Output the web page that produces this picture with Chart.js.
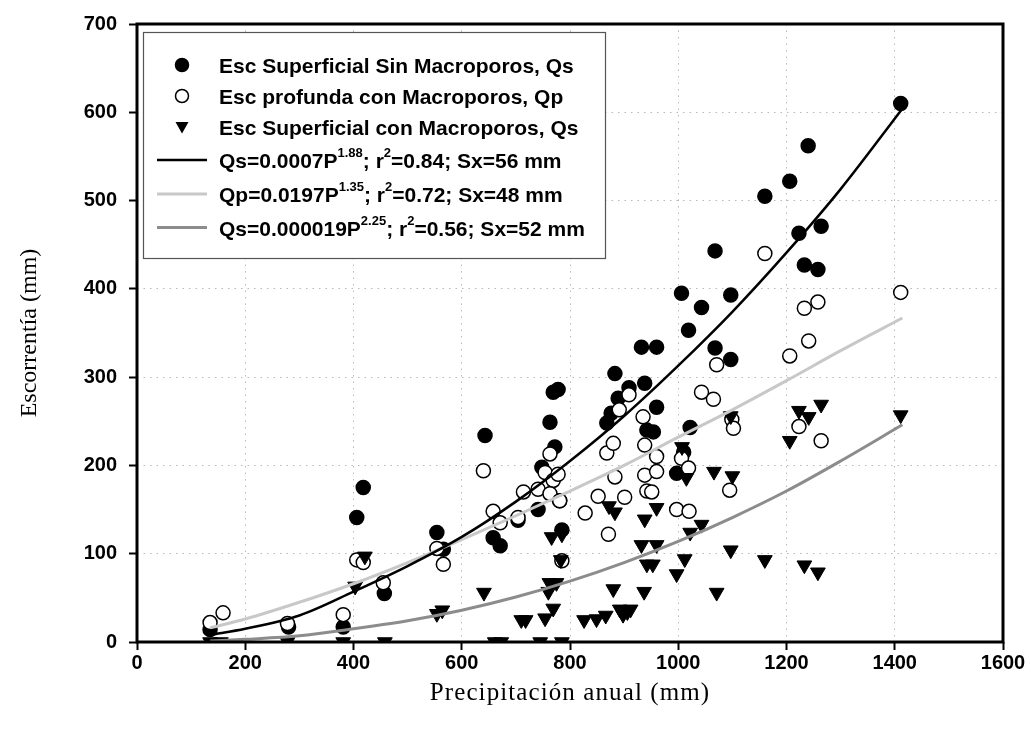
<!DOCTYPE html>
<html>
<head>
<meta charset="utf-8">
<title>Escorrentía vs precipitación anual</title>
<script src="https://cdn.jsdelivr.net/npm/chart.js@4.4.1/dist/chart.umd.min.js"></script>
<style>
  body { margin: 0; background: #fff; }
  #wrap { width: 1031px; height: 740px; }
</style>
</head>
<body>
<div id="wrap"><canvas id="runoffChart" width="1031" height="740"></canvas></div>
<script>
// Esc superficial sin macroporos (Qs) - filled circles
const sinMacroP = [135, 280, 381, 406, 418, 457, 554, 566, 643, 658, 671, 704, 741, 748, 763, 769, 778, 772, 781, 785,
  868, 876, 883, 889, 909, 932, 960, 938, 960, 942, 954, 1006, 1043, 1019, 1068, 1097, 1097, 1022, 997, 1010,
  1068, 1160, 1206, 1240, 1223, 1264, 1233, 1258, 1411];
const sinMacroQ = [14, 17, 17, 141, 175, 55, 124, 105, 234, 118, 109, 138, 150, 198, 249, 283, 286, 221, 160, 127,
  248, 259, 304, 276, 288, 334, 334, 293, 266, 240, 238, 395, 379, 353, 333, 393, 320, 243, 191, 215,
  443, 505, 522, 562, 463, 471, 427, 422, 610];

// Esc profunda con macroporos (Qp) - open circles
const profundaP = [135, 159, 278, 381, 406, 418, 455, 554, 566, 640, 658, 671, 704, 714, 741, 754, 763, 769, 778, 763,
  781, 785, 828, 852, 871, 883, 868, 880, 901, 909, 891, 935, 938, 960, 938, 960, 942, 951, 997, 1020,
  1006, 1019, 1043, 1065, 1071, 1095, 1099, 1102, 1160, 1206, 1233, 1258, 1241, 1223, 1264, 1411];
const profundaQ = [22, 33, 21, 31, 93, 90, 67, 106, 88, 194, 148, 135, 141, 170, 173, 192, 213, 183, 190, 168,
  160, 92, 146, 165, 122, 187, 214, 225, 164, 280, 263, 255, 223, 210, 189, 193, 171, 170, 150, 148,
  208, 197, 283, 275, 314, 172, 252, 242, 440, 324, 378, 385, 341, 244, 228, 396];

// Esc superficial con macroporos (Qs) - down triangles
const conMacroP = [135, 155, 278, 381, 403, 421, 458, 554, 564, 641, 661, 673, 710, 718, 745, 754, 769, 760, 762, 775,
  783, 766, 785, 785, 826, 849, 866, 880, 892, 898, 906, 912, 872, 883, 938, 960, 932, 960, 942, 953,
  937, 997, 1012, 1022, 1043, 1007, 1015, 1066, 1100, 1071, 1097, 1097, 1160, 1233, 1258, 1206, 1223, 1241, 1264, 1411];
const conMacroQ = [0, 0, 0, 0, 63, 97, 0, 32, 36, 56, 0, 0, 25, 25, 0, 27, 38, 57, 67, 67,
  93, 119, 122, 0, 25, 26, 30, 60, 37, 31, 34, 37, 154, 147, 139, 152, 110, 110, 88, 88,
  57, 77, 94, 124, 133, 221, 186, 193, 188, 56, 104, 256, 93, 87, 79, 228, 262, 255, 269, 257];

// fitted curves, read at fixed precipitation values
const fitP = [135, 200, 300, 400, 500, 600, 700, 800, 900, 1000, 1100, 1200, 1300, 1414];
const fitSinMacro = [8, 15, 30, 57, 86, 119, 159, 205, 256, 313, 374, 441, 513, 604];
const fitProfunda = [16, 26, 45, 66, 90, 116, 143, 171, 200, 232, 263, 296, 330, 367];
const fitConMacro = [1, 3, 7, 15, 24, 36, 51, 69, 90, 114, 141, 171, 205, 246];

const xTicks = [0, 200, 400, 600, 800, 1000, 1200, 1400, 1600];
const yTicks = [0, 100, 200, 300, 400, 500, 600, 700];

const xTitle = 'Precipitación anual (mm)';
const yTitle = 'Escorrentía (mm)';

const legendRows = [
  { mark: 'filled', parts: [['Esc Superficial Sin Macroporos, Qs']] },
  { mark: 'open', parts: [['Esc profunda con Macroporos, Qp']] },
  { mark: 'triangle', parts: [['Esc Superficial con Macroporos, Qs']] },
  { mark: 'line', color: '#000000', parts: [['Qs=0.0007P'], ['1.88', true], ['; r'], ['2', true], ['=0.84; Sx=56 mm']] },
  { mark: 'line', color: '#c8c8c8', parts: [['Qp=0.0197P'], ['1.35', true], ['; r'], ['2', true], ['=0.72; Sx=48 mm']] },
  { mark: 'line', color: '#8c8c8c', parts: [['Qs=0.000019P'], ['2.25', true], ['; r'], ['2', true], ['=0.56; Sx=52 mm']] }
];

const toPoints = (xs, ys) => xs.map((x, i) => ({ x: x, y: ys[i] }));

const sansBold = "'Liberation Sans', Arial, sans-serif";
const serif = "'Liberation Serif', 'Times New Roman', serif";

// thick box around the plot area
const framePlugin = {
  id: 'frame',
  afterDatasetsDraw(chart) {
    const { ctx, chartArea: a } = chart;
    ctx.save();
    ctx.lineWidth = 3;
    ctx.strokeStyle = '#000';
    ctx.strokeRect(a.left, a.top, a.right - a.left, a.bottom - a.top);
    ctx.restore();
  }
};

// axis titles drawn by hand so the x title can be letter-spaced
const axisTitles = {
  id: 'axisTitles',
  afterDraw(chart) {
    const { ctx, chartArea: a } = chart;
    ctx.save();
    ctx.fillStyle = '#000';
    ctx.textAlign = 'center';
    ctx.textBaseline = 'middle';
    ctx.font = '25px ' + serif;
    ctx.letterSpacing = '1.1px';
    ctx.fillText(xTitle, (a.left + a.right) / 2, 693);
    ctx.letterSpacing = '0px';
    ctx.font = '24px ' + serif;
    ctx.translate(30, (a.top + a.bottom) / 2);
    ctx.rotate(-Math.PI / 2);
    ctx.fillText(yTitle, 0, 0);
    ctx.restore();
  }
};

// legend box with superscripts in the fit equations
const equationLegend = {
  id: 'equationLegend',
  afterDraw(chart) {
    const ctx = chart.ctx;
    const box = { left: 143, top: 32, width: 462, height: 226 };
    const baselines = [73, 104, 135, 168, 202, 235.5];
    const markX = 182;
    const textX = 219;
    ctx.save();
    ctx.fillStyle = '#fff';
    ctx.fillRect(box.left, box.top, box.width, box.height);
    ctx.lineWidth = 1.2;
    ctx.strokeStyle = '#555';
    ctx.strokeRect(box.left + 0.5, box.top + 0.5, box.width, box.height);

    legendRows.forEach((row, i) => {
      const base = baselines[i];
      const midY = base - 8;
      ctx.fillStyle = '#000';
      ctx.strokeStyle = '#000';
      if (row.mark === 'filled' || row.mark === 'open') {
        ctx.beginPath();
        ctx.arc(markX, midY, 6.5, 0, Math.PI * 2);
        ctx.fillStyle = row.mark === 'filled' ? '#000' : '#fff';
        ctx.fill();
        ctx.lineWidth = 1.5;
        ctx.stroke();
      } else if (row.mark === 'triangle') {
        ctx.beginPath();
        ctx.moveTo(markX - 6.5, midY - 5);
        ctx.lineTo(markX + 6.5, midY - 5);
        ctx.lineTo(markX, midY + 6.5);
        ctx.closePath();
        ctx.fill();
      } else {
        ctx.beginPath();
        ctx.moveTo(157, midY);
        ctx.lineTo(207, midY);
        ctx.lineWidth = row.color === '#000000' ? 2.5 : 3;
        ctx.strokeStyle = row.color;
        ctx.stroke();
      }
      let x = textX;
      ctx.fillStyle = '#000';
      ctx.textBaseline = 'alphabetic';
      ctx.textAlign = 'left';
      row.parts.forEach(([txt, sup]) => {
        ctx.font = 'bold ' + (sup ? 13 : 21) + 'px ' + sansBold;
        ctx.fillText(txt, x, sup ? base - 11 : base);
        x += ctx.measureText(txt).width;
      });
    });
    ctx.restore();
  }
};

const tickStyle = {
  color: '#000',
  font: { family: sansBold, weight: 'bold', size: 20 },
  callback: (v) => String(v)
};

const gridStyle = {
  color: '#b8b8b8',
  lineWidth: 1,
  tickLength: 8,
  tickColor: '#000',
  tickWidth: 2,
  tickBorderDash: []
};

const chart = new Chart(document.getElementById('runoffChart'), {
  type: 'scatter',
  data: {
    datasets: [
      {
        label: 'Esc Superficial Sin Macroporos, Qs',
        data: toPoints(sinMacroP, sinMacroQ),
        pointStyle: 'circle',
        pointRadius: 7,
        backgroundColor: '#000',
        borderColor: '#000',
        borderWidth: 1.5,
        order: 4
      },
      {
        label: 'Esc profunda con Macroporos, Qp',
        data: toPoints(profundaP, profundaQ),
        pointStyle: 'circle',
        pointRadius: 7,
        backgroundColor: '#fff',
        borderColor: '#000',
        borderWidth: 1.5,
        order: 3
      },
      {
        label: 'Esc Superficial con Macroporos, Qs',
        data: toPoints(conMacroP, conMacroQ),
        pointStyle: 'triangle',
        rotation: 180,
        pointRadius: 8.5,
        backgroundColor: '#000',
        borderColor: '#000',
        borderWidth: 1,
        order: 2
      },
      {
        label: 'Qs sin macroporos (ajuste)',
        data: toPoints(fitP, fitSinMacro),
        showLine: true,
        pointRadius: 0,
        borderColor: '#000',
        borderWidth: 2.5,
        cubicInterpolationMode: 'monotone',
        order: 1
      },
      {
        label: 'Qp (ajuste)',
        data: toPoints(fitP, fitProfunda),
        showLine: true,
        pointRadius: 0,
        borderColor: '#c8c8c8',
        borderWidth: 3,
        cubicInterpolationMode: 'monotone',
        order: 1
      },
      {
        label: 'Qs con macroporos (ajuste)',
        data: toPoints(fitP, fitConMacro),
        showLine: true,
        pointRadius: 0,
        borderColor: '#8c8c8c',
        borderWidth: 3,
        cubicInterpolationMode: 'monotone',
        order: 1
      }
    ]
  },
  options: {
    responsive: false,
    animation: false,
    events: [],
    layout: { padding: { top: 19, right: 28, left: 0, bottom: 0 } },
    plugins: {
      legend: { display: false },
      tooltip: { enabled: false }
    },
    scales: {
      x: {
        type: 'linear',
        min: xTicks[0],
        max: xTicks[xTicks.length - 1],
        afterFit: (scale) => { scale.height = 98; },
        afterBuildTicks: (scale) => { scale.ticks = xTicks.map(v => ({ value: v })); },
        ticks: Object.assign({ padding: 1 }, tickStyle),
        grid: gridStyle,
        border: { display: false, dash: [1.5, 5] }
      },
      y: {
        type: 'linear',
        min: yTicks[0],
        max: yTicks[yTicks.length - 1],
        afterFit: (scale) => { scale.width = 137; },
        afterBuildTicks: (scale) => { scale.ticks = yTicks.map(v => ({ value: v })); },
        ticks: Object.assign({ padding: 12 }, tickStyle),
        grid: gridStyle,
        border: { display: false, dash: [1.5, 5] }
      }
    }
  },
  plugins: [framePlugin, axisTitles, equationLegend]
});
</script>
</body>
</html>
